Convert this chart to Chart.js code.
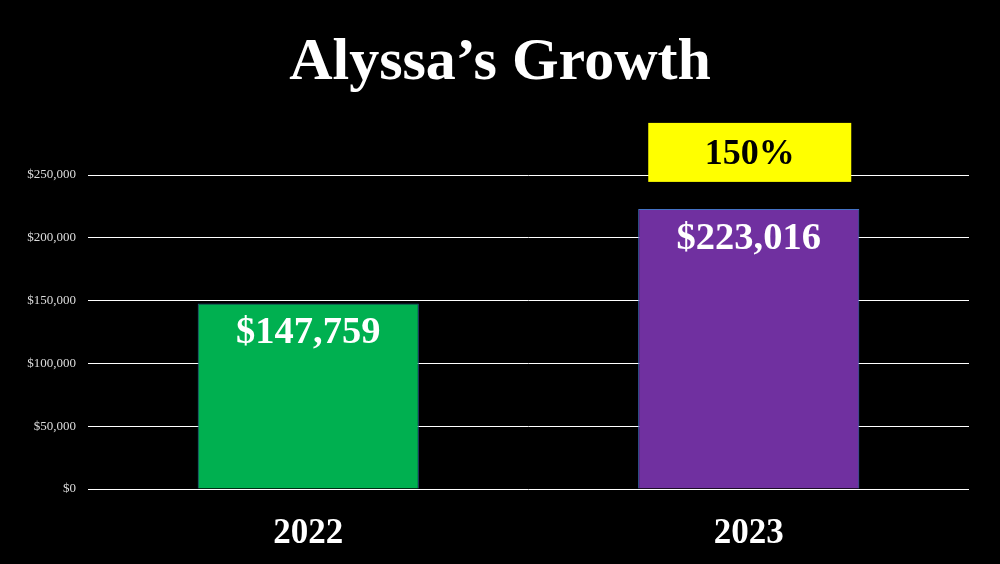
<!DOCTYPE html>
<html>
<head>
<meta charset="utf-8">
<script src="https://cdn.jsdelivr.net/npm/chart.js@4"></script>
<style>
  html, body { margin: 0; padding: 0; background: #000; }
  #wrap { width: 1000px; height: 564px; }
</style>
</head>
<body>
<div id="wrap"><canvas id="growth"></canvas></div>
<script>
const years = ["2022", "2023"];
const income = [147759, 223016];
const barColors = ["#00B050", "#7030A0"];
const barBorders = ["#2F528F", "#4472C4"];
const growthLabel = "150%";
const titleText = "Alyssa\u2019s Growth";

const serif = "'Liberation Serif', 'DejaVu Serif', serif";

// title centred on the whole slide, labels inside bars, yellow growth box
const slideText = {
  id: "slideText",
  afterDraw(chart) {
    const ctx = chart.ctx;
    ctx.save();
    ctx.textAlign = "center";
    ctx.textBaseline = "middle";
    ctx.fillStyle = "#fff";
    ctx.font = "bold 60px " + serif;
    ctx.fillText(titleText, chart.width / 2, 63);
    ctx.restore();
  },
  afterDatasetsDraw(chart) {
    const ctx = chart.ctx;
    const bars = chart.getDatasetMeta(0).data;
    ctx.save();
    ctx.textAlign = "center";
    ctx.textBaseline = "middle";
    ctx.font = "bold 38.5px " + serif;
    ctx.fillStyle = "#fff";
    bars.forEach((bar, i) => {
      ctx.fillText("$" + income[i].toLocaleString("en-US"), bar.x, bar.y + 30);
    });

    const last = bars[bars.length - 1];
    const boxW = 203, boxH = 59;
    const top = last.y - 27 - boxH;
    ctx.fillStyle = "#FFFF00";
    ctx.fillRect(last.x - boxW / 2 + 1, top, boxW, boxH);
    ctx.fillStyle = "#000";
    ctx.font = "bold 36px " + serif;
    ctx.fillText(growthLabel, last.x + 1, top + boxH / 2 + 2);
    ctx.restore();
  }
};

new Chart(document.getElementById("growth"), {
  type: "bar",
  data: {
    labels: years,
    datasets: [{
      data: income,
      backgroundColor: barColors,
      borderColor: barBorders,
      borderWidth: 1,
      categoryPercentage: 1,
      barPercentage: 0.502
    }]
  },
  options: {
    responsive: true,
    maintainAspectRatio: false,
    animation: false,
    layout: { padding: { left: 0, right: 31, top: 175, bottom: 0 } },
    plugins: {
      legend: { display: false },
      tooltip: { enabled: false },
      title: { display: false }
    },
    scales: {
      x: {
        grid: { display: false },
        border: { display: false },
        ticks: {
          color: "#fff",
          padding: 16,
          font: { family: serif, size: 35, weight: "bold" }
        },
        afterFit(scale) { scale.height = 75; }
      },
      y: {
        min: 0,
        max: 250000,
        grid: { color: "#fff", lineWidth: 1, drawTicks: false },
        border: { display: false },
        ticks: {
          stepSize: 50000,
          color: "#ddd",
          padding: 12,
          font: { family: serif, size: 13 },
          callback: v => "$" + v.toLocaleString("en-US")
        },
        afterFit(scale) { scale.width = 88; }
      }
    }
  },
  plugins: [slideText]
});
</script>
</body>
</html>
